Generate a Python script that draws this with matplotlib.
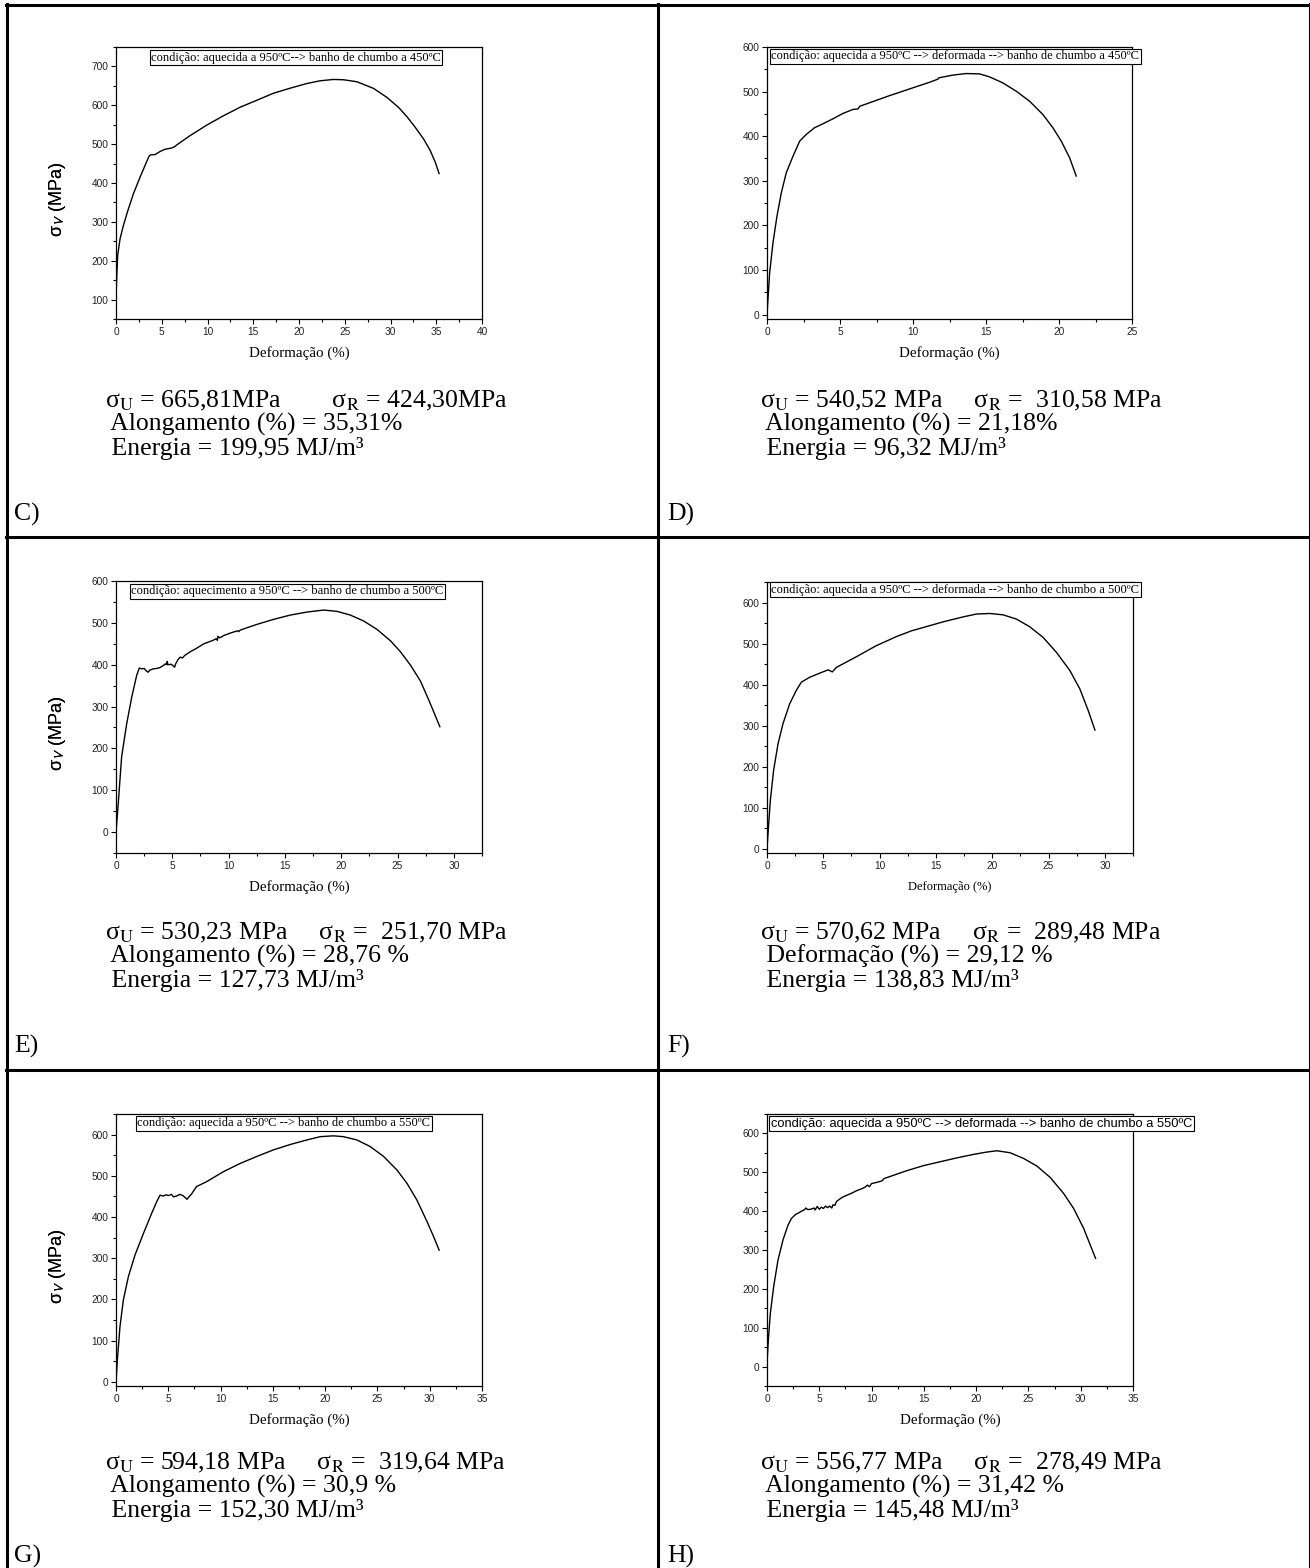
import matplotlib
matplotlib.use("Agg")
import matplotlib.pyplot as plt
from matplotlib.lines import Line2D
from matplotlib.ticker import MultipleLocator

W, H = 1310, 1568
DPI = 100
SERIF = "Liberation Serif"
SANS = "Liberation Sans"
plt.rcParams["mathtext.fontset"] = "stix"

# --- curves (strain %, true stress MPa) ---
strain_C = [0, 0.07, 0.18, 0.44, 0.8, 1.24, 1.9, 2.63, 3.17, 3.61, 3.83, 4.27, 4.81,
            5.36, 6.09, 6.45, 6.64, 8.1, 9.92, 11.74, 13.56, 15.39, 17.21, 19.03,
            20.86, 22.3, 23.77, 24.87, 26.33, 28.15, 29.61, 30.88, 31.8, 32.71,
            33.62, 34.35, 34.9, 35.31]
stress_C = [102, 153, 213, 256, 290, 325, 372, 415, 445, 469, 473, 473, 481,
            487, 490, 494, 498, 522, 549, 573, 595, 613, 631, 644,
            656, 663, 666.5, 665.7, 660.6, 643.4, 620.3, 594.6, 570.6, 543.1,
            513.1, 483.1, 453.1, 424.3]

strain_D = [0, 0.05, 0.18, 0.41, 0.68, 0.98, 1.32, 1.78, 2.24, 2.69, 3.26, 3.84,
            4.52, 5.2, 5.89, 6.23, 6.35, 7.03, 8.4, 9.77, 11.14, 11.71, 11.78,
            12.74, 13.65, 14.57, 15.25, 16.16, 17.08, 17.99, 18.9, 19.59, 20.16,
            20.73, 21.18]
stress_D = [0, 26, 93, 161, 220, 273, 318, 355, 389, 404, 419, 428,
            439, 451, 460, 461, 467, 475, 491, 506, 521, 528, 531,
            537, 540.5, 539.6, 532.9, 519.4, 500.7, 478.3, 448.4, 418.5, 388.6,
            351.3, 310.6]

strain_E = [0, 0.2, 0.5, 0.95, 1.4, 1.84, 2.07, 2.3, 2.5, 2.7, 2.85, 3.0, 3.3,
            3.6, 3.9, 4.2, 4.4, 4.5, 4.55, 4.6, 4.9, 5.1, 5.2, 5.3, 5.5, 5.7,
            5.9, 6.1, 6.6, 7.2, 7.8, 8.3, 8.6, 8.9, 9.0, 9.05, 9.2, 9.6, 10.2,
            10.8, 10.9, 11.03, 12.51, 13.99, 15.48, 16.96, 18.44, 19.63, 20.81,
            22.0, 23.18, 24.37, 25.26, 26.15, 27.04, 27.78, 28.76]
stress_E = [0, 68, 180, 259, 323, 375, 392, 390, 391, 385, 382, 387, 390,
            391, 393, 398, 402, 400, 408, 400, 401, 397, 394, 402, 412, 418,
            416, 422, 431, 440, 450, 455, 458, 462, 458, 468, 464, 470, 476,
            481, 479, 482.7, 496.3, 508.3, 518.6, 525.8, 530.6, 527.4, 518.6,
            504.3, 484.3, 457.2, 430.9, 398.9, 360.6, 315.2, 251.7]

strain_F = [0, 0.09, 0.3, 0.59, 0.98, 1.42, 2.01, 2.6, 3.05, 3.79, 4.68, 5.42,
            5.66, 5.8, 6.16, 7.94, 9.71, 11.49, 12.82, 13.86, 15.64, 17.41,
            18.6, 19.78, 20.97, 22.15, 23.33, 24.52, 25.7, 26.9, 27.78, 28.52,
            29.12]
stress_F = [0, 38, 119, 192, 256, 305, 353, 386, 406, 418, 428, 436,
            433, 431, 442, 468, 495, 517, 531, 539, 553, 565,
            572, 573.3, 570, 559.6, 541, 515, 478.7, 434.2, 389.7, 337.2,
            289.5]

strain_G = [0, 0.13, 0.38, 0.7, 1.18, 1.82, 2.62, 3.41, 3.89, 4.21, 4.5, 4.8,
            5.0, 5.3, 5.5, 5.8, 6.1, 6.4, 6.8, 6.9, 7.2, 7.7, 8.2, 8.68, 10.27,
            11.87, 13.47, 15.06, 16.66, 18.25, 19.53, 20.8, 21.76, 23.04, 24.31,
            25.59, 26.87, 27.82, 28.78, 29.74, 30.38, 30.9]
stress_G = [0, 53, 134, 198, 255, 308, 360, 409, 437, 453, 451, 454,
            452, 455, 449, 451, 455, 452, 443, 447, 455, 474, 480, 486, 510,
            530, 547, 563, 576, 587, 595, 597, 595, 587, 571,
            547, 514, 482, 441, 389, 352, 319.6]

strain_H = [0, 0.13, 0.32, 0.64, 1.05, 1.53, 2.01, 2.33, 2.6, 2.75, 3.0, 3.3,
            3.6, 3.7, 3.9, 4.2, 4.5, 4.6, 4.8, 5.0, 5.2, 5.4, 5.6, 5.8, 6.0,
            6.2, 6.3, 6.5, 6.65, 7.0, 7.3, 8.0, 8.6, 9.0, 9.4, 9.6, 9.8, 10.0,
            10.5, 11.0, 11.2, 11.75, 13.35, 14.95, 16.54, 18.14, 19.74, 21.0,
            21.97, 23.25, 24.53, 25.81, 27.08, 28.36, 29.32, 30.28, 31.42]
stress_H = [9, 69, 137, 206, 274, 326, 364, 381, 388, 392, 395, 400,
            404, 408, 404, 405, 408, 403, 412, 405, 410, 407, 413, 409, 413,
            408, 416, 415, 425, 432, 437, 445, 453, 457, 462, 467, 463, 471,
            474, 478, 484, 489, 504, 517, 527, 537, 546, 552,
            555.4, 550.3, 535.7, 516, 486.8, 445.7, 407.1, 355.7, 278.5]

conditions = [
    "condição: aquecida a 950ºC--> banho de chumbo a 450ºC",
    "condição: aquecida a 950ºC --> deformada --> banho de chumbo a 450ºC",
    "condição: aquecimento a 950ºC --> banho de chumbo a 500ºC",
    "condição: aquecida a 950ºC --> deformada --> banho de chumbo a 500ºC",
    "condição: aquecida a 950ºC --> banho de chumbo a 550ºC",
    "condição: aquecida a 950ºC --> deformada --> banho de chumbo a 550ºC",
]
panel_tags = ["C)", "D)", "E)", "F)", "G)", "H)"]
sigma_u = ["665,81MPa", "540,52 MPa", "530,23 MPa", "570,62 MPa", "594,18 MPa", "556,77 MPa"]
sigma_r = ["424,30MPa", " 310,58 MPa", " 251,70 MPa", " 289,48 MPa", " 319,64 MPa", " 278,49 MPa"]
elong_text = ["Alongamento (%) = 35,31%", "Alongamento (%) = 21,18%",
              "Alongamento (%) = 28,76 %", "Deformação (%) = 29,12 %",
              "Alongamento (%) = 30,9 %", "Alongamento (%) = 31,42 %"]
energy = ["199,95", "96,32", "127,73", "138,83", "152,30", "145,48"]

curves = [(strain_C, stress_C), (strain_D, stress_D), (strain_E, stress_E),
          (strain_F, stress_F), (strain_G, stress_G), (strain_H, stress_H)]
xlims = [(0, 40), (0, 25), (0, 32.5), (0, 32.5), (0, 35), (0, 35)]
ylims = [(50, 750), (-10, 600), (-50, 600), (-10, 650), (-10, 650), (-50, 650)]
yfirst = [100, 0, 0, 0, 0, 0]

# layout in pixels (left, right, top, bottom)
axes_px = [(116, 482, 47, 319), (767, 1132, 47, 319),
           (116, 482, 581, 853), (767, 1133, 582, 853),
           (116, 482, 1114, 1386), (767, 1133, 1114, 1386)]
box_px = [(151, 57.5), (771, 56.5), (131, 591.5), (771, 589.5), (137, 1123), (771, 1123.5)]
text_x = [105, 760, 105, 760, 105, 760]
gap_spaces = [8, 5, 5, 5, 5, 5]
last_baseline = [455, 455, 987, 987, 1517, 1517]   # baseline of the "Energia" line
tag_xy = [(14, 514), (667, 514), (14, 1046), (667, 1046), (14, 1556), (667, 1556)]
TXT = 18.5


def fx(x):
    return x / W


def fy(y):
    return 1 - y / H


fig = plt.figure(figsize=(W / DPI, H / DPI), dpi=DPI)

for i in range(6):
    l, r, t, b = axes_px[i]
    ax = fig.add_axes([fx(l), fy(b), (r - l) / W, (b - t) / H])
    xs, ys = curves[i]
    ax.plot(xs, ys, color="black", lw=1.0)
    ax.set_xlim(*xlims[i])
    ax.set_ylim(*ylims[i])
    ax.xaxis.set_major_locator(MultipleLocator(5))
    ax.xaxis.set_minor_locator(MultipleLocator(2.5))
    ax.set_yticks(range(yfirst[i], 701 if i == 0 else 601, 100))
    ax.yaxis.set_minor_locator(MultipleLocator(50))
    ax.tick_params(which="both", direction="out", top=False, right=False,
                   labelsize=7.3, labelcolor="#222222", width=0.8, pad=2)
    ax.tick_params(which="major", length=3.5)
    ax.tick_params(which="minor", length=2)
    for lab in ax.get_xticklabels() + ax.get_yticklabels():
        lab.set_family(SANS)
    for s in ax.spines.values():
        s.set_linewidth(0.9)

    ax.set_ylabel(r"σ$_\mathsf{V}$ (MPa)", family=SANS, fontsize=13)
    ax.yaxis.set_label_coords((68 - l) / (r - l), 0.44)
    xl_size = 9 if i == 3 else 10.8
    ax.set_xlabel("Deformação (%)", family=SERIF, fontsize=xl_size)
    ax.xaxis.set_label_coords(0.5, -(34 / (b - t)))
    ax.xaxis.label.set_va("center")

    bx, by = box_px[i]
    fam = SANS if i == 5 else SERIF
    fsz = 9.3 if i == 5 else 9.0
    fig.text(fx(bx), fy(by), conditions[i], family=fam, fontsize=fsz, va="center",
             ha="left", bbox=dict(boxstyle="square,pad=0.12", fc="white",
                                  ec="black", lw=0.8))

    block = ("σ$_\\mathrm{U}$ = " + sigma_u[i] + " " * gap_spaces[i]
             + "σ$_\\mathrm{R}$ = " + sigma_r[i] + "\n"
             + " " + elong_text[i] + "\n"
             + " Energia = " + energy[i] + " MJ/m³")
    fig.text(fx(text_x[i]), fy(last_baseline[i]), block, family=SERIF, fontsize=TXT,
             va="baseline", ha="left", linespacing=1.03)
    tx, ty = tag_xy[i]
    fig.text(fx(tx), fy(ty), panel_tags[i], family=SERIF, fontsize=TXT, va="center")

# table frame
frame = [((6.5, 6.5), (4, H)), ((1309.5, 1309.5), (4, H)), ((658, 658), (4, H)),
         ((5.5, W), (5, 5)), ((5.5, W), (536.7, 536.7)), ((5.5, W), (1070, 1070))]
for xs_, ys_ in frame:
    fig.add_artist(Line2D([fx(v) for v in xs_], [fy(v) for v in ys_],
                          color="black", lw=2.2, transform=fig.transFigure))

fig.savefig("out.png", dpi=DPI)
